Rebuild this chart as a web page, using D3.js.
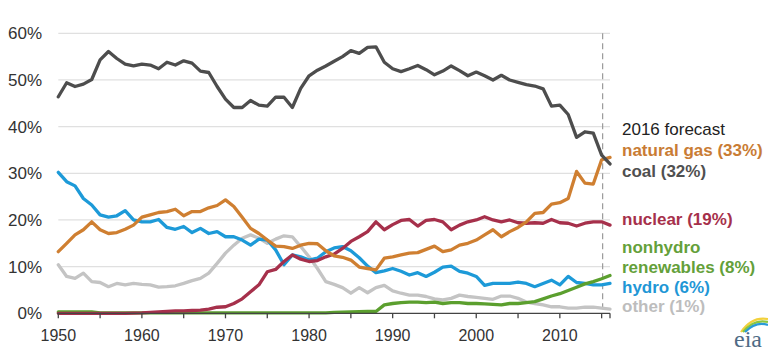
<!DOCTYPE html>
<html>
<head>
<meta charset="utf-8">
<script src="https://cdn.jsdelivr.net/npm/d3@7"></script>
<style>
  html, body { margin: 0; padding: 0; background: #fff; }
  svg { display: block; font-family: Arial, "Liberation Sans", sans-serif; }
</style>
</head>
<body>
<svg id="chart" width="768" height="362"></svg>
<script>
const years = d3.range(1950, 2017);

const coal = [46.4,49.4,48.6,49.1,50.1,54.3,56.1,54.6,53.4,53.0,
  53.4,53.2,52.4,53.8,53.2,54.1,53.6,51.9,51.6,48.6,
  45.9,44.1,44.1,45.6,44.6,44.4,46.3,46.3,44.1,48.2,
  50.9,52.1,53.0,54.0,55.0,56.3,55.7,57.0,57.1,53.8,
  52.4,51.8,52.4,53.1,52.2,51.1,51.9,53.0,52.0,50.9,
  51.7,50.9,50.0,51.0,50.0,49.5,49.0,48.7,48.1,44.4,
  44.6,42.6,37.7,38.9,38.6,33.9,32.0];

const naturalGas = [13.2,15.0,16.8,17.9,19.6,17.9,17.1,17.3,18.0,18.9,
  20.6,21.1,21.6,21.8,22.3,20.9,21.8,21.8,22.6,23.1,
  24.3,22.9,20.6,18.2,17.1,15.7,14.4,14.3,13.9,14.6,
  15.0,14.9,13.4,12.3,12.0,11.4,9.9,9.6,9.3,11.8,
  12.1,12.5,12.9,13.0,13.7,14.4,13.2,13.6,14.6,15.0,
  15.7,16.8,17.9,16.4,17.5,18.4,19.6,21.4,21.6,23.4,
  23.7,24.6,30.4,27.9,27.7,32.9,33.4];

const nuclear = [0,0,0,0,0,0,0,0,0,0.05,
  0.1,0.2,0.3,0.4,0.5,0.5,0.6,0.7,0.9,1.3,
  1.4,2.1,3.1,4.6,6.1,8.9,9.4,11.1,12.5,11.6,
  11.1,11.3,12.1,12.7,13.9,15.4,16.4,17.5,19.6,17.9,
  19.0,19.9,20.1,18.7,19.9,20.1,19.6,17.9,18.9,19.6,
  20.0,20.7,20.0,19.6,20.0,19.4,19.3,19.4,19.3,20.1,
  19.4,19.3,18.7,19.3,19.6,19.6,18.9];

const nonhydro = [0.3,0.3,0.3,0.3,0.3,0.1,0.1,0.1,0.1,0.1,
  0.1,0.1,0.1,0.1,0.1,0.1,0.1,0.1,0.1,0.1,
  0.1,0.1,0.1,0.1,0.1,0.1,0.1,0.1,0.1,0.1,
  0.1,0.1,0.1,0.2,0.25,0.3,0.35,0.4,0.4,1.8,
  2.1,2.3,2.4,2.4,2.3,2.4,2.1,2.3,2.3,2.1,
  2.1,2.0,1.9,1.8,2.1,2.1,2.3,2.5,3.1,3.7,
  4.2,4.9,5.6,6.3,6.8,7.4,8.1];

const hydro = [30.2,28.2,27.3,24.6,23.2,21.1,20.6,20.9,22.0,20.0,
  19.6,19.6,20.1,18.4,18.0,18.6,17.3,18.2,17.1,17.5,
  16.4,16.4,15.7,14.6,15.9,15.7,13.6,10.4,12.5,12.1,
  11.4,11.8,13.2,14.0,14.3,13.4,11.9,10.1,8.7,9.1,
  9.6,9.0,8.2,8.7,7.9,8.8,9.9,10.1,9.0,8.6,
  7.9,6.0,6.4,6.4,6.4,6.7,6.4,5.7,6.4,7.1,
  6.1,7.9,6.6,6.4,6.1,6.1,6.4];

const other = [10.4,7.9,7.5,8.6,6.8,6.6,5.7,6.4,6.1,6.4,
  6.2,6.1,5.6,5.7,5.9,6.4,7.0,7.5,8.6,10.7,
  12.9,14.6,16.1,16.8,16.1,15.0,15.9,16.6,16.4,14.3,
  12.1,9.6,6.8,6.2,5.5,4.3,5.5,4.4,5.5,6.0,
  4.8,4.3,3.9,3.9,3.6,3.1,2.9,3.2,3.9,3.6,
  3.4,3.2,3.0,3.7,3.7,3.2,2.4,2.1,1.8,1.4,
  1.4,1.1,1.1,1.3,1.3,1.1,0.9];

const yTicks = [0, 10, 20, 30, 40, 50, 60];
const xTickYears = d3.range(1950, 2016, 5);
const xLabelYears = [1950, 1960, 1970, 1980, 1990, 2000, 2010];
const forecastYear = 2015;

const labelLines = [
  { text: "2016 forecast", color: "#222222", weight: "normal", y: 135 },
  { text: "natural gas (33%)", color: "#c97c34", weight: "bold", y: 156 },
  { text: "coal (32%)", color: "#505050", weight: "bold", y: 177 },
  { text: "nuclear (19%)", color: "#a6304b", weight: "bold", y: 225 },
  { text: "nonhydro", color: "#64a03a", weight: "bold", y: 253 },
  { text: "renewables (8%)", color: "#64a03a", weight: "bold", y: 273 },
  { text: "hydro (6%)", color: "#1f97d6", weight: "bold", y: 293 },
  { text: "other (1%)", color: "#bdbdbd", weight: "bold", y: 312 }
];

const series = [
  { name: "other", values: other, color: "#c4c4c4" },
  { name: "hydro", values: hydro, color: "#1d9ad8" },
  { name: "nonhydro", values: nonhydro, color: "#5b9f2e" },
  { name: "nuclear", values: nuclear, color: "#a6304b" },
  { name: "naturalGas", values: naturalGas, color: "#cf7f31" },
  { name: "coal", values: coal, color: "#4d4d4d" }
];

const svg = d3.select("#chart");
const x = d3.scaleLinear().domain([1950, 2016]).range([58.3, 610]);
const y = d3.scaleLinear().domain([0, 60]).range([313.3, 33.3]);

// gridlines
svg.append("g").selectAll("line")
  .data(yTicks.filter(d => d > 0))
  .join("line")
  .attr("x1", x(1950)).attr("x2", x(2016))
  .attr("y1", d => y(d)).attr("y2", d => y(d))
  .attr("stroke", "#e0e0e0").attr("stroke-width", 1.3);

// y labels
svg.append("g").selectAll("text")
  .data(yTicks)
  .join("text")
  .attr("x", 42).attr("y", d => y(d))
  .attr("dy", "0.36em")
  .attr("text-anchor", "end")
  .attr("font-size", 17)
  .attr("fill", "#333")
  .text(d => d + "%");

// forecast dashed line
svg.append("line")
  .attr("x1", x(forecastYear) + 1).attr("x2", x(forecastYear) + 1)
  .attr("y1", y(60)).attr("y2", y(0))
  .attr("stroke", "#9a9a9a").attr("stroke-width", 1.2)
  .attr("stroke-dasharray", "6,4");

// lines
const line = d3.line()
  .x((d, i) => x(years[i]))
  .y(d => y(d));

svg.append("g").selectAll("path")
  .data(series)
  .join("path")
  .attr("d", s => line(s.values))
  .attr("fill", "none")
  .attr("stroke", s => s.color)
  .attr("stroke-width", 3.3)
  .attr("stroke-linejoin", "round")
  .attr("stroke-linecap", "round");

// x axis
const axis = svg.append("g");
axis.append("line")
  .attr("x1", x(1950) - 1).attr("x2", x(2016))
  .attr("y1", y(0)).attr("y2", y(0))
  .attr("stroke", "#444").attr("stroke-width", 1.3);
axis.selectAll("line.tick")
  .data(xTickYears.concat([2016]))
  .join("line")
  .attr("class", "tick")
  .attr("x1", d => x(d)).attr("x2", d => x(d))
  .attr("y1", y(0)).attr("y2", y(0) + 5)
  .attr("stroke", "#444").attr("stroke-width", 1.3);
axis.selectAll("text")
  .data(xLabelYears)
  .join("text")
  .attr("x", d => x(d)).attr("y", 341)
  .attr("text-anchor", "middle")
  .attr("font-size", 16)
  .attr("fill", "#333")
  .text(d => d);

// right-hand labels
svg.append("g").selectAll("text")
  .data(labelLines)
  .join("text")
  .attr("x", 622).attr("y", d => d.y)
  .attr("font-size", 17)
  .attr("font-weight", d => d.weight)
  .attr("fill", d => d.color)
  .text(d => d.text);

// eia logo
const logo = svg.append("g");
const arcColors = ["#f2d13c", "#8cc63f", "#2a9bd7"];
arcColors.forEach((c, i) => {
  logo.append("path")
    .attr("d", `M ${741 + i * 2} 332 Q ${752 + i * 2} ${316 + i * 2.5} ${768} ${319 + i * 3}`)
    .attr("fill", "none")
    .attr("stroke", c)
    .attr("stroke-width", 2.2);
});
logo.append("text")
  .attr("x", 734).attr("y", 347)
  .attr("font-family", "'Liberation Serif', 'DejaVu Serif', serif")
  .attr("font-size", 24)
  .attr("fill", "#4f6b85")
  .text("eia");
</script>
</body>
</html>
